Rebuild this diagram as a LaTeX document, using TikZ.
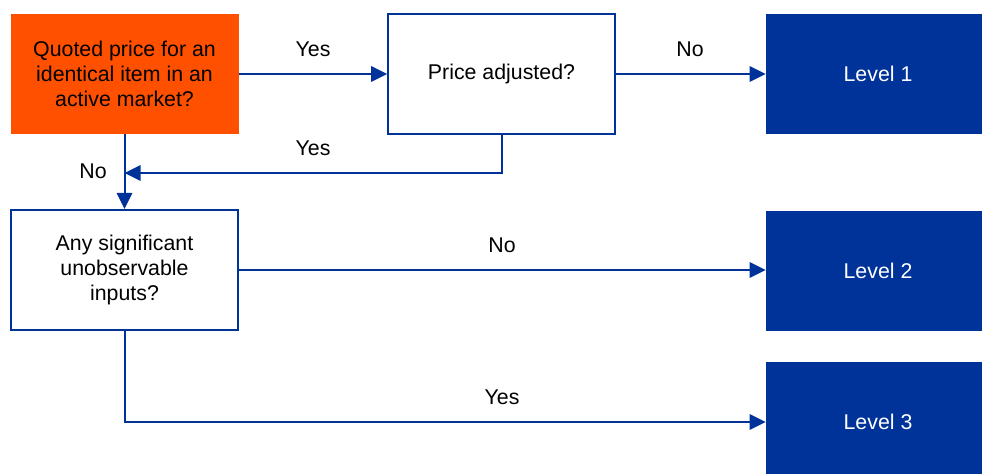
\documentclass[tikz,border=0pt]{standalone}
\usepackage{fontspec}
\setmainfont{Liberation Sans}
\usetikzlibrary{arrows.meta,positioning}
\definecolor{fvblue}{HTML}{003399}
\definecolor{fvorange}{HTML}{FF5000}

\begin{document}
\begin{tikzpicture}[x=0.75pt, y=-0.75pt, font=\fontsize{16}{18.5}\selectfont, >={Triangle[length=12pt,width=11.5pt]},
  every node/.style={align=center},
  question/.style={draw=fvblue, line width=1.5pt, fill=white, minimum width=170pt, minimum height=90pt, inner sep=0pt},
  start/.style={fill=fvorange, minimum width=171pt, minimum height=90pt, inner sep=0pt},
  level/.style={fill=fvblue, text=white, minimum width=168pt, minimum height=90pt, inner sep=0pt},
  flow/.style={draw=fvblue, line width=1.5pt}]
  \useasboundingbox (0,0) rectangle (982,474);
  % Boxes
  \node[start] (quoted) at (124.5,74) {Quoted price for an\\ identical item in an\\ active market?};
  \node[question] (adjusted) at (501.5,74) {Price adjusted?};
  \node[question] (anysig) at (124.5,270) {Any significant\\ unobservable\\ inputs?};
  \node[level] (level1) at (878,74) {Level 1};
  \node[level] (level2) at (878,271) {Level 2};
  \node[level] (level3) at (878,422) {Level 3};
  \coordinate (merge) at (124.5,173);

  % Arrows
  \draw[flow,->] (quoted) -- (adjusted);
  \draw[flow,->] (adjusted) -- (level1);
  \draw[flow,->] (adjusted.south) |- (merge);
  \draw[flow,->] (quoted) -- (anysig);
  \draw[flow,->] (anysig.east) -- (anysig.east -| level2.west);
  \draw[flow,->] (anysig.south) |- (level3.west);

  % Labels
  \node (yes1) at (313,49) {Yes};
  \node (no1) at (690,49) {No};
  \node (yes2) at (313,148) {Yes};
  \node (no2) at (93,171) {No};
  \node (no3) at (502,245) {No};
  \node (yes3) at (502,397) {Yes};
\end{tikzpicture}
\end{document}
